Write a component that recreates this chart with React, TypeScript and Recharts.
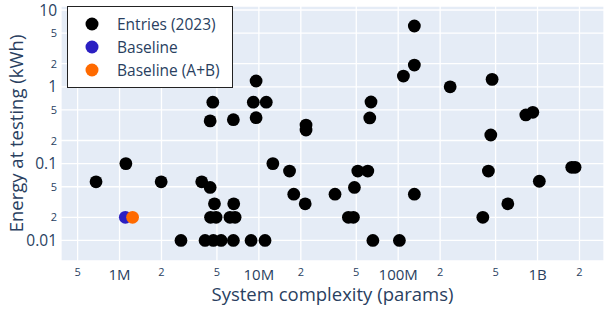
import React from "react";
import { ScatterChart, Scatter, XAxis, YAxis, CartesianGrid, Legend } from "recharts";

const FONT = '"Open Sans", verdana, arial, sans-serif';
const TEXT = "#2a3f5f";

// Entries (2023): [params, kWh]
const entryParams = [
  0.678e6, 1.11e6, 1.99e6, 2.76e6, 3.89e6, 4.47e6, 4.8e6, 6.6e6, 4.5e6, 4.93e6,
  6.2e6, 6.75e6, 4.11e6, 4.71e6, 5.36e6, 6.56e6, 8.79e6, 11.07e6, 12.6e6, 16.6e6,
  17.8e6, 21.5e6, 35.2e6, 9.55e6, 4.67e6, 9.12e6, 11.3e6, 4.47e6, 6.56e6, 9.55e6,
  21.8e6, 21.8e6, 130.6e6, 130.6e6, 109e6, 236e6, 63.8e6, 62.5e6, 51.3e6, 60.5e6,
  48.5e6, 130.6e6, 43.9e6, 47.7e6, 65.8e6, 102e6, 472e6, 824e6, 925e6, 462e6,
  444e6, 1.03e9, 1.76e9, 1.86e9, 612e6, 405e6,
];
const entryEnergy = [
  0.058, 0.1, 0.058, 0.01, 0.058, 0.049, 0.03, 0.03, 0.02, 0.02,
  0.02, 0.02, 0.01, 0.01, 0.01, 0.01, 0.01, 0.01, 0.1, 0.08,
  0.04, 0.03, 0.04, 1.19, 0.63, 0.63, 0.63, 0.36, 0.373, 0.396,
  0.318, 0.274, 6.19, 1.92, 1.38, 1.0, 0.634, 0.393, 0.08, 0.08,
  0.049, 0.04, 0.02, 0.02, 0.01, 0.01, 1.25, 0.43, 0.466, 0.236,
  0.08, 0.059, 0.0895, 0.0895, 0.03, 0.02,
];

const baselineParams = [1.1e6];
const baselineEnergy = [0.02];
const baselineABParams = [1.24e6];
const baselineABEnergy = [0.02];

const seriesNames = ["Entries (2023)", "Baseline", "Baseline (A+B)"];
const seriesColors = ["#000000", "#2b1fc2", "#ff6a00"];

const xTicks = [5e5, 1e6, 2e6, 5e6, 1e7, 2e7, 5e7, 1e8, 2e8, 5e8, 1e9, 2e9];
const xTickLabels = ["5", "1M", "2", "5", "10M", "2", "5", "100M", "2", "5", "1B", "2"];
const yTicks = [0.01, 0.02, 0.05, 0.1, 0.2, 0.5, 1, 2, 5, 10];
const yTickLabels = ["0.01", "2", "5", "0.1", "2", "5", "1", "2", "5", "10"];

const xDomain = [3.8e5, 3.0e9];
const yDomain = [0.0054, 11.27];

const zip = (xs: number[], ys: number[]) => xs.map((x, i) => ({ x, y: ys[i] }));
const entries = zip(entryParams, entryEnergy);
const baseline = zip(baselineParams, baselineEnergy);
const baselineAB = zip(baselineABParams, baselineABEnergy);

const isMajor = (v: number) => Math.abs(Math.log10(v) - Math.round(Math.log10(v))) < 1e-9;

const XTick = (props: any) => {
  const { x, y, payload } = props;
  const idx = xTicks.findIndex((t) => Math.abs(t - payload.value) / t < 1e-6);
  const label = idx >= 0 ? xTickLabels[idx] : "";
  const major = isMajor(payload.value);
  return (
    <text x={x} y={y + (major ? 16.5 : 13)} textAnchor="middle" fontFamily={FONT}
      fontSize={major ? 15 : 11} fill={TEXT}>
      {label}
    </text>
  );
};

const YTick = (props: any) => {
  const { x, y, payload } = props;
  const idx = yTicks.findIndex((t) => Math.abs(t - payload.value) / t < 1e-6);
  const label = idx >= 0 ? yTickLabels[idx] : "";
  const major = isMajor(payload.value);
  return (
    <text x={x} y={y + (major ? 5.5 : 4)} textAnchor="end" fontFamily={FONT}
      fontSize={major ? 15.5 : 11} fill={TEXT}>
      {label}
    </text>
  );
};

const dot = (color: string) => (props: any) => (
  <circle cx={props.cx} cy={props.cy} r={6.4} fill={color} />
);

const LegendBox = (props: any) => {
  const payload = props.payload || [];
  const ordered = seriesNames.map((name, i) => {
    const p = payload.find((q: any) => q.value === name);
    return { value: name, color: p && p.color ? p.color : seriesColors[i] };
  });
  return (
    <div style={{ width: 166, height: 82, background: "#fff", border: "1.5px solid #222",
      boxSizing: "border-box", position: "relative", fontFamily: FONT }}>
      {ordered.map((p: any, i: number) => (
        <div key={i} style={{ position: "absolute", left: 0, top: 5 + i * 23, height: 24,
          display: "flex", alignItems: "center" }}>
          <svg width={40} height={24}>
            <circle cx={24} cy={12} r={6.5} fill={p.color} />
          </svg>
          <span style={{ marginLeft: 9, fontSize: 15.5, color: TEXT, whiteSpace: "nowrap" }}>{p.value}</span>
        </div>
      ))}
    </div>
  );
};

export default function App() {
  return (
    <div style={{ position: "absolute", left: 0, top: 0, width: 604, height: 309, background: "#fff" }}>
      <ScatterChart width={604} height={309} margin={{ top: 6, right: 0, bottom: 0, left: 0 }}>
        <CartesianGrid fill="#E5ECF6" stroke="#ffffff" strokeWidth={1.3} />
        <XAxis type="number" dataKey="x" scale="log" domain={xDomain} allowDataOverflow
          ticks={xTicks} tick={<XTick />} tickLine={false} axisLine={false} tickSize={0}
          height={48} interval={0}
          label={{ value: "System complexity (params)", position: "insideBottom", offset: 8,
            style: { fontFamily: FONT, fontSize: 18.5, fill: TEXT } }} />
        <YAxis type="number" dataKey="y" scale="log" domain={yDomain} allowDataOverflow
          ticks={yTicks} tick={<YTick />} tickLine={false} axisLine={false} tickSize={2}
          width={61} interval={0}
          label={{ value: "Energy at testing (kWh)", angle: -90, position: "insideLeft", offset: 16,
            style: { fontFamily: FONT, fontSize: 18.5, fill: TEXT, textAnchor: "middle" } }} />
        <Legend layout="vertical" align="center" verticalAlign="middle"
          wrapperStyle={{ left: 67, top: 6, width: 168 }} content={<LegendBox />} />
        <Scatter name={seriesNames[0]} data={entries} fill={seriesColors[0]}
          shape={dot(seriesColors[0])} isAnimationActive={false} />
        <Scatter name={seriesNames[1]} data={baseline} fill={seriesColors[1]}
          shape={dot(seriesColors[1])} isAnimationActive={false} />
        <Scatter name={seriesNames[2]} data={baselineAB} fill={seriesColors[2]}
          shape={dot(seriesColors[2])} isAnimationActive={false} />
      </ScatterChart>
    </div>
  );
}
